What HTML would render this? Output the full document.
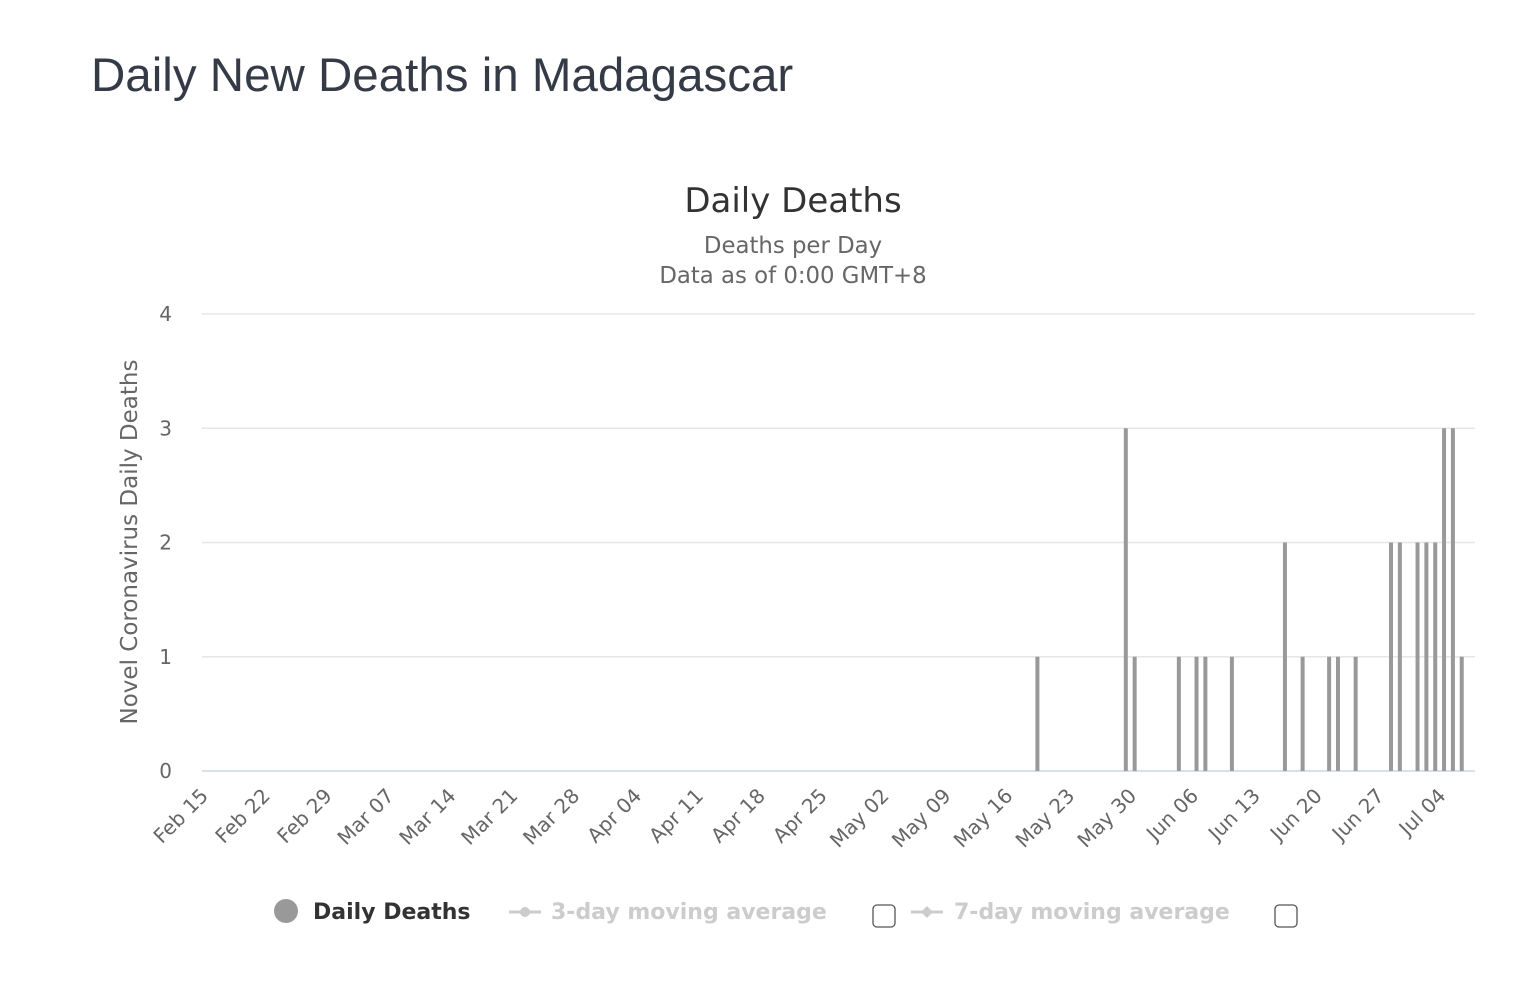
<!DOCTYPE html>
<html><head><meta charset="utf-8"><style>
body{margin:0;width:1520px;height:1002px;background:#fff;font-family:"Liberation Sans","DejaVu Sans",sans-serif;overflow:hidden}
#title{position:absolute;left:91px;top:48px;font-size:47.5px;color:#343a46;margin:0;font-weight:normal}
</style></head><body>
<h1 id="title">Daily New Deaths in Madagascar</h1>
<svg id="chart" width="1520" height="1002" style="position:absolute;left:0;top:0">
<text x="793" y="212" text-anchor="middle" font-size="34" fill="#333" font-family="DejaVu Sans, sans-serif">Daily Deaths</text>
<text x="793" y="253" text-anchor="middle" font-size="22.8" fill="#666" font-family="DejaVu Sans, sans-serif">Deaths per Day</text>
<text x="793" y="283" text-anchor="middle" font-size="22.8" fill="#666" font-family="DejaVu Sans, sans-serif">Data as of 0:00 GMT+8</text>
<text transform="translate(137,542) rotate(-90)" text-anchor="middle" font-size="23" fill="#666" font-family="DejaVu Sans, sans-serif">Novel Coronavirus Daily Deaths</text>
<g id="grid"></g><g id="bars"></g><g id="xlabels"></g>
<g font-family="DejaVu Sans, sans-serif" font-size="22" font-weight="bold">
<g><circle cx="286" cy="911" r="12" fill="#999"/><text x="313" y="919" fill="#333">Daily Deaths</text></g>
<g><line x1="509" y1="912" x2="541" y2="912" stroke="#ccc" stroke-width="3"/><circle cx="525" cy="912" r="5" fill="#ccc"/><text x="551" y="919" fill="#ccc">3-day moving average</text></g>
<rect x="873" y="905" width="22" height="22" rx="4" fill="#fff" stroke="#555" stroke-width="1.3"/>
<g><line x1="911" y1="912" x2="943" y2="912" stroke="#ccc" stroke-width="3"/><path d="M927 906 L933 912 L927 918 L921 912Z" fill="#ccc"/><text x="954" y="919" fill="#ccc">7-day moving average</text></g>
<rect x="1275" y="905" width="22" height="22" rx="4" fill="#fff" stroke="#555" stroke-width="1.3"/>
</g>
</svg>
<script>
const startDate = "2020-02-15";
const dayCount = 144;
const values = [0,0,0,0,0,0,0,0,0,0,0,0,0,0,0,0,0,0,0,0,0,0,0,0,0,0,0,0,0,0,0,0,0,0,0,0,0,0,0,0,0,0,0,0,0,0,0,0,0,0,0,0,0,0,0,0,0,0,0,0,0,0,0,0,0,0,0,0,0,0,0,0,0,0,0,0,0,0,0,0,0,0,0,0,0,0,0,0,0,0,0,0,0,0,
1,0,0,0,0,0,0,0,0,0,3,1,0,0,0,0,1,0,1,1,0,0,1,0,0,0,0,0,2,0,1,0,0,1,1,0,1,0,0,0,2,2,0,2,2,2,3,3,1,0];
const yTicks = [0,1,2,3,4];
const M = ["Jan","Feb","Mar","Apr","May","Jun","Jul","Aug","Sep","Oct","Nov","Dec"];
const categories = [];
for (let i = 0; i < dayCount; i++) {
  const d = new Date(startDate + "T00:00:00Z"); d.setUTCDate(d.getUTCDate() + i);
  categories.push(M[d.getUTCMonth()] + " " + String(d.getUTCDate()).padStart(2, "0"));
}
const NS = "http://www.w3.org/2000/svg";
const X0 = 202, X1 = 1475, Y0 = 771, Y1 = 314, YMAX = 4;
const bw = (X1 - X0) / categories.length;
const xc = i => X0 + bw * (i + 0.5);
const y = v => Y0 - (v / YMAX) * (Y0 - Y1);
function mk(tag, attrs, parent) { const e = document.createElementNS(NS, tag); for (const k in attrs) e.setAttribute(k, attrs[k]); parent.appendChild(e); return e; }
const grid = document.getElementById("grid");
yTicks.forEach(t => {
  const l = mk("line", {x1: X0, x2: X1, y1: y(t), y2: y(t), stroke: t === 0 ? "#ccd6eb" : "#e6e6e6", "stroke-width": 1.5}, grid);
  
  
  const tx = mk("text", {x: 172, y: y(t) + 7, "text-anchor": "end", "font-size": 20, fill: "#666", "font-family": "DejaVu Sans, sans-serif"}, grid);
  tx.textContent = t;
  
  
});
const bars = document.getElementById("bars");
values.forEach((v, i) => {
  if (!v) return;
  const r = mk("rect", {x: xc(i) - 2, y: y(v), width: 4, height: Y0 - y(v), fill: "#999"}, bars);
  
  
});
const xl = document.getElementById("xlabels");
categories.forEach((c, i) => {
  if (i % 7) return;
  const t = mk("text", {transform: `translate(${xc(i)+3},${Y0 + 26}) rotate(-45)`, "text-anchor": "end", "font-size": 20, fill: "#666", "font-family": "DejaVu Sans, sans-serif"}, xl);
  t.textContent = c;
  
  
});
</script>
</body></html>
